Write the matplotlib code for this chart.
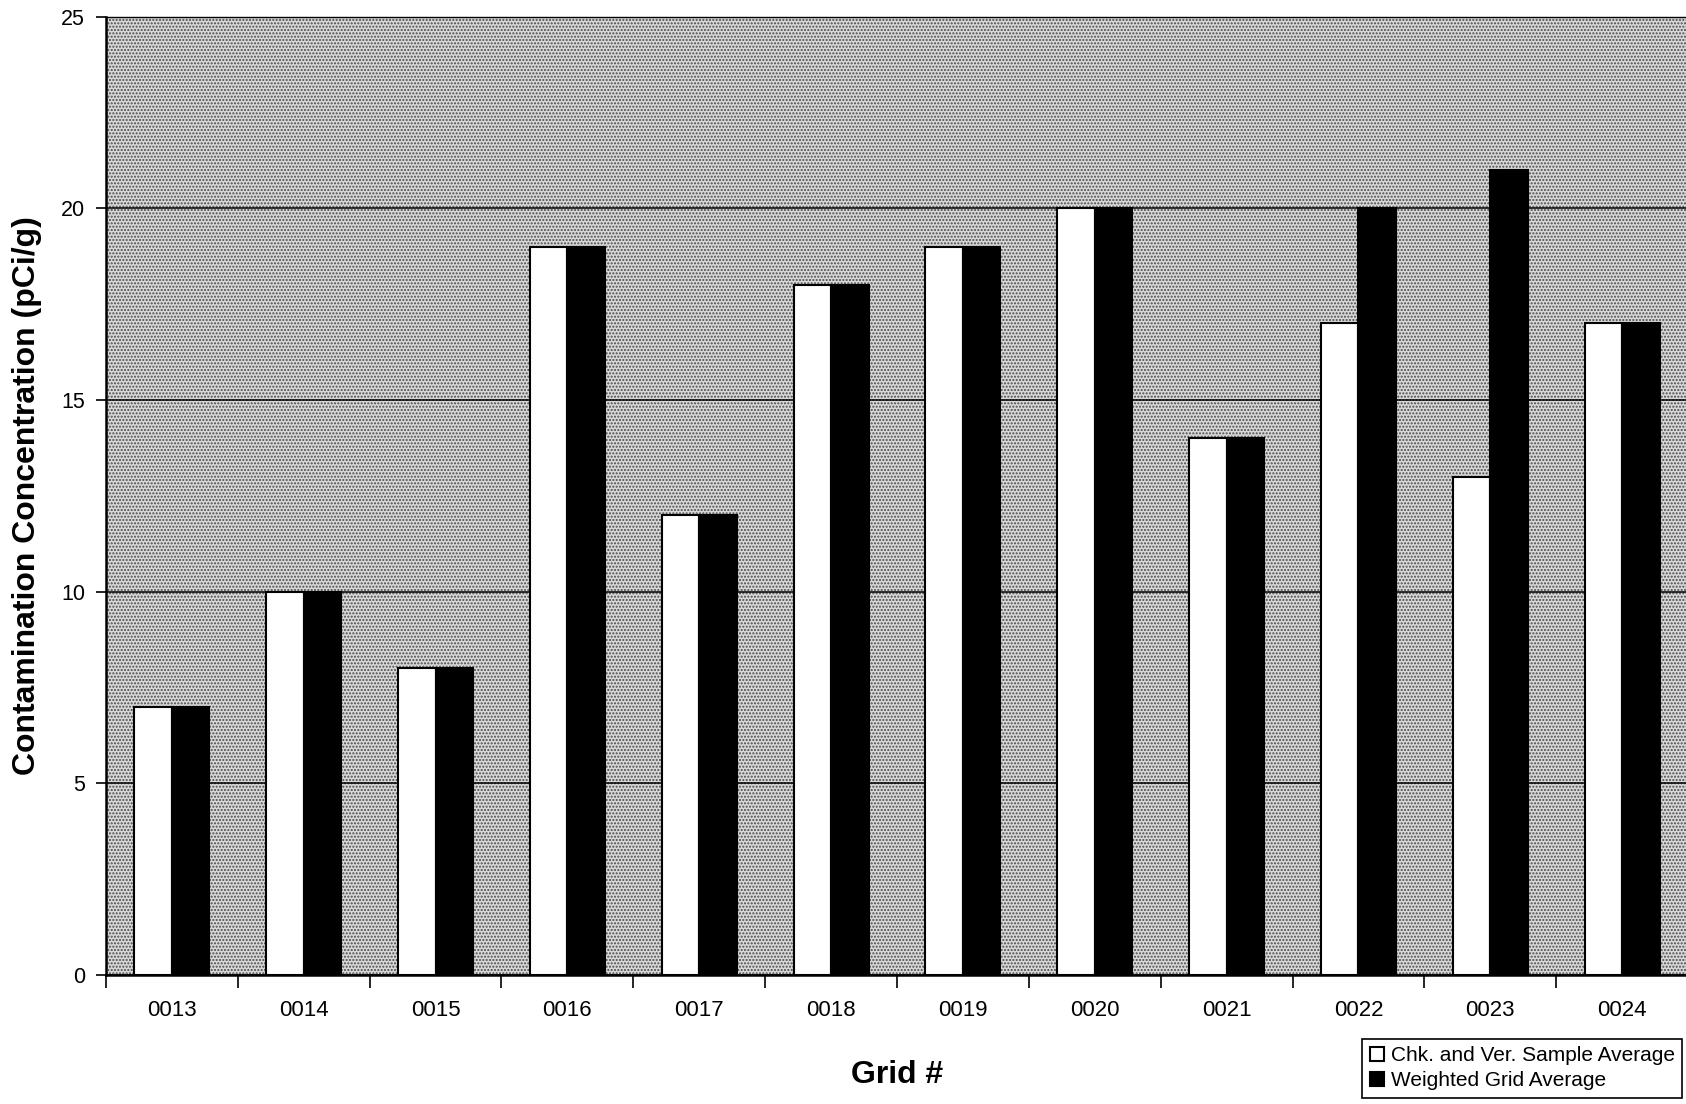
import matplotlib
matplotlib.use("Agg")
import matplotlib.pyplot as plt
from matplotlib.patches import Rectangle
import numpy as np

plt.rcParams['font.family'] = ['Liberation Sans', 'DejaVu Sans']
plt.rcParams['hatch.linewidth'] = 1.0

# grid numbers and averages (pCi/g)
grids = ['0013', '0014', '0015', '0016', '0017', '0018',
         '0019', '0020', '0021', '0022', '0023', '0024']
chk_ver_avg = [7, 10, 8, 19, 12, 18, 19, 20, 14, 17, 13, 17]
weighted_avg = [7, 10, 8, 19, 12, 18, 19, 20, 14, 20, 21, 17]

fig = plt.figure(figsize=(16.86, 11.04), dpi=100)
ax = fig.add_axes([106 / 1686, 0.117, 1582 / 1686, 0.868])

# dotted grey plot area
ax.add_patch(Rectangle((0, 0), 1, 1, transform=ax.transAxes, facecolor='#d8d8d8',
                       edgecolor='#4a4a4a', linewidth=0, hatch='.....', zorder=0))

x = np.arange(len(grids))
w = 0.285
ax.bar(x - w / 2, chk_ver_avg, w, color='white', edgecolor='black', linewidth=1.5,
       label='Chk. and Ver. Sample Average', zorder=3)
ax.bar(x + w / 2, weighted_avg, w, color='black', edgecolor='black', linewidth=1.5,
       label='Weighted Grid Average', zorder=3)

ax.set_xlim(-0.5, len(grids) - 0.5)
ax.set_ylim(0, 25)
ax.set_yticks([0, 5, 10, 15, 20, 25])
ax.yaxis.grid(True, color='black', linewidth=1.1, zorder=1)
ax.set_axisbelow(True)

# category ticks sit between the groups, labels in the middle
ax.set_xticks(np.arange(len(grids) + 1) - 0.5)
ax.set_xticklabels([])
ax.set_xticks(x, minor=True)
ax.set_xticklabels(grids, minor=True, fontsize=16)
ax.tick_params(axis='x', which='major', direction='out', length=9, width=1.2)
ax.tick_params(axis='x', which='minor', length=0, pad=18)
ax.tick_params(axis='y', direction='out', length=7, width=1.2, labelsize=15.5, pad=8)

for s in ['left', 'bottom']:
    ax.spines[s].set_linewidth(1.8)
for s in ['top', 'right']:
    ax.spines[s].set_linewidth(1.0)
    ax.spines[s].set_linestyle((0, (1, 1)))

ax.set_ylabel('Contamination Concentration (pCi/g)', fontsize=23, fontweight='bold', labelpad=14)
ax.set_xlabel('Grid #', fontsize=23, fontweight='bold', labelpad=28)

leg = fig.legend(loc='lower right', bbox_to_anchor=(1.0, 0.002), fontsize=15,
                 frameon=True, fancybox=False, edgecolor='black', framealpha=1,
                 handlelength=0.7, handleheight=0.7, handletextpad=0.3,
                 labelspacing=0.3, borderpad=0.35, borderaxespad=0.2)
leg.get_frame().set_linewidth(1.2)

fig.savefig('out.png', dpi=100)
